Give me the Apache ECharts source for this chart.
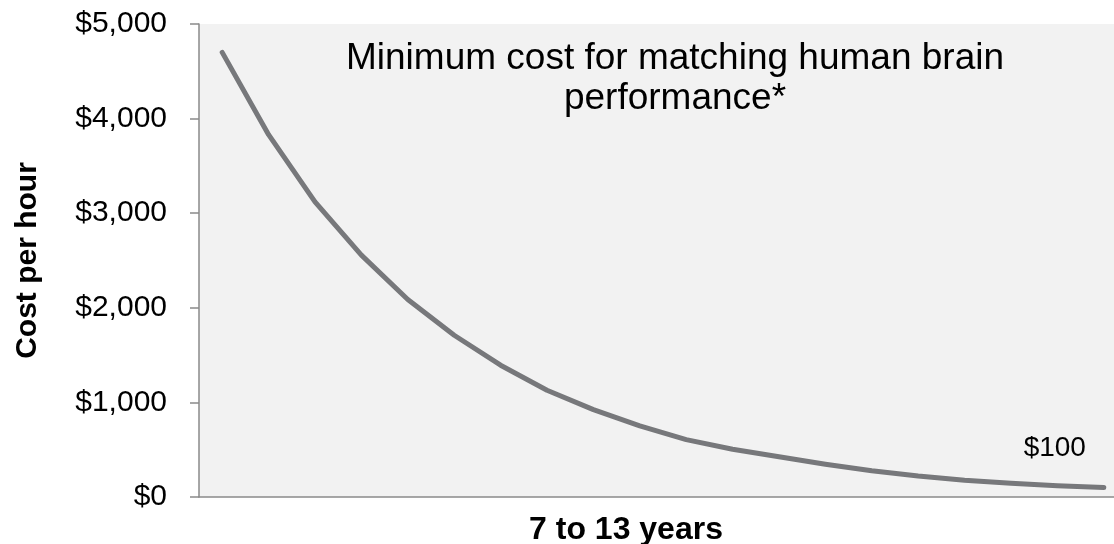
<!DOCTYPE html>
<html>
<head>
<meta charset="utf-8">
<script src="https://cdn.jsdelivr.net/npm/echarts@6/dist/echarts.min.js"></script>
<style>
  html, body { margin: 0; padding: 0; background: #fff; }
  #main { width: 1114px; height: 544px; }
</style>
</head>
<body>
<div id="main"></div>
<script>
// values (one point per step, 20 steps)
const steps = ['1','2','3','4','5','6','7','8','9','10','11','12','13','14','15','16','17','18','19','20'];
const costPerHour = [4700, 3830, 3120, 2557, 2088, 1710, 1393, 1129, 924, 751, 607, 505, 425, 346, 277, 222, 178, 145, 120, 100];
const yTicks = [0, 1000, 2000, 3000, 4000, 5000];

const chart = echarts.init(document.getElementById('main'));

const font = '"Liberation Sans", Arial, sans-serif';
const last = costPerHour.length - 1;

const option = {
  animation: false,
  textStyle: { fontFamily: font },
  title: {
    text: 'Minimum cost for matching human brain\nperformance*',
    left: 670,
    top: 34,
    textAlign: 'center',
    textStyle: { fontFamily: font, fontSize: 37, fontWeight: 'normal', color: '#000', lineHeight: 40 }
  },
  grid: {
    left: 199, top: 24, right: -13, bottom: 47,
    outerBoundsMode: 'none',
    containLabel: false,
    show: true, backgroundColor: '#f2f2f2', borderWidth: 0
  },
  xAxis: {
    type: 'category',
    data: steps,
    boundaryGap: true,
    name: '7 to 13 years',
    nameLocation: 'middle',
    nameGap: 17,
    nameTextStyle: { fontFamily: font, fontSize: 32, fontWeight: 'bold', color: '#000', padding: [0, 74, 0, 0], verticalAlign: 'top' },
    axisLine: { lineStyle: { color: '#8a8a8a', width: 1.5 } },
    axisTick: { show: false },
    axisLabel: { show: false },
    splitLine: { show: false }
  },
  yAxis: {
    type: 'value',
    min: yTicks[0],
    max: yTicks[yTicks.length - 1],
    interval: 1000,
    name: 'Cost per hour',
    nameLocation: 'middle',
    nameGap: 156,
    nameTextStyle: { fontFamily: font, fontSize: 30, fontWeight: 'bold', color: '#000' },
    axisLine: { show: true, lineStyle: { color: '#8a8a8a', width: 1.5 } },
    axisTick: { show: true, length: 9, lineStyle: { color: '#8a8a8a', width: 1.5 } },
    axisLabel: {
      margin: 32,
      fontFamily: font, fontSize: 30, color: '#000',
      formatter: v => '$' + v.toLocaleString('en-US')
    },
    splitLine: { show: false }
  },
  series: [{
    type: 'line',
    data: costPerHour.map((v, i) => i === last ? {
      value: v,
      label: {
        show: true, position: 'top', distance: 5, offset: [-49, -20],
        fontFamily: font, fontSize: 28, color: '#000',
        formatter: p => '$' + p.value
      }
    } : v),
    showSymbol: true,
    symbol: 'circle',
    symbolSize: 1,
    itemStyle: { color: 'rgba(0,0,0,0)' },
    lineStyle: { color: '#77787b', width: 5, cap: 'round', join: 'round' },
    emphasis: { disabled: true }
  }]
};

option && chart.setOption(option);
</script>
</body>
</html>
